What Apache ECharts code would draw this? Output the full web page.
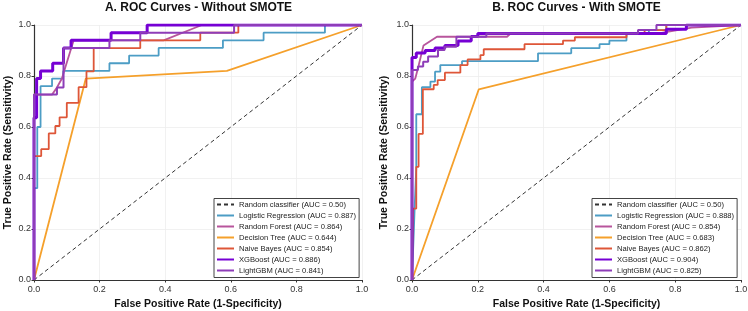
<!DOCTYPE html>
<html>
<head>
<meta charset="utf-8">
<script src="https://cdn.jsdelivr.net/npm/echarts@6/dist/echarts.min.js"></script>
<style>
  html, body { margin: 0; padding: 0; background: #fff; }
  #chart { width: 748px; height: 311px; }
</style>
</head>
<body>
<div id="chart"></div>
<script>
// panel titles and axis names
const panelTitles = ['A. ROC Curves - Without SMOTE', 'B. ROC Curves - With SMOTE'];
const xName = 'False Positive Rate (1-Specificity)';
const yName = 'True Positive Rate (Sensitivity)';

// legend labels
const labelsA = [
  'Random classifier (AUC = 0.50)',
  'Logistic Regression (AUC = 0.887)',
  'Random Forest (AUC = 0.864)',
  'Decision Tree (AUC = 0.644)',
  'Naive Bayes (AUC = 0.854)',
  'XGBoost (AUC = 0.886)',
  'LightGBM (AUC = 0.841)'
];
const labelsB = [
  'Random classifier (AUC = 0.50) ',
  'Logistic Regression (AUC = 0.888)',
  'Random Forest (AUC = 0.854)',
  'Decision Tree (AUC = 0.683)',
  'Naive Bayes (AUC = 0.862)',
  'XGBoost (AUC = 0.904)',
  'LightGBM (AUC = 0.825)'
];

// curves, [fpr, tpr]
const randomLine = [[0, 0], [1, 1]];

const lrA = [[0, 0], [0, 0.36], [0.01, 0.36], [0.01, 0.6], [0.02, 0.6], [0.02, 0.76], [0.055, 0.76], [0.055, 0.79],
  [0.089, 0.79], [0.089, 0.82], [0.23, 0.82], [0.23, 0.85], [0.29, 0.85], [0.29, 0.88], [0.38, 0.88], [0.38, 0.91],
  [0.576, 0.91], [0.576, 0.94], [0.70, 0.94], [0.70, 0.97], [0.887, 0.97], [0.887, 1], [1, 1]];
const rfA = [[0, 0], [0, 0.727], [0.055, 0.727], [0.07, 0.755], [0.085, 0.79], [0.121, 0.94], [0.395, 0.94], [0.512, 1], [1, 1]];
const dtA = [[0, 0], [0.158, 0.79], [0.588, 0.82], [1, 1]];
const nbA = [[0, 0], [0, 0.486], [0.022, 0.486], [0.022, 0.513], [0.045, 0.513], [0.045, 0.575], [0.065, 0.575], [0.065, 0.604],
  [0.078, 0.604], [0.078, 0.638], [0.10, 0.638], [0.10, 0.695], [0.136, 0.695], [0.136, 0.756], [0.16, 0.756], [0.16, 0.818],
  [0.182, 0.818], [0.182, 0.909], [0.324, 0.909], [0.324, 0.94], [0.507, 0.94], [0.507, 0.97], [0.623, 0.97], [0.623, 1], [1, 1]];
const xgbA = [[0, 0], [0, 0.636], [0.008, 0.636], [0.008, 0.79], [0.02, 0.79], [0.02, 0.82], [0.057, 0.82], [0.057, 0.85],
  [0.09, 0.85], [0.09, 0.91], [0.113, 0.91], [0.113, 0.94], [0.235, 0.94], [0.235, 0.97], [0.345, 0.97], [0.345, 1], [1, 1]];
const lgbA = [[0, 0], [0, 0.727], [0.07, 0.727], [0.07, 0.755], [0.09, 0.755], [0.09, 0.91], [0.23, 0.91], [0.23, 0.94],
  [0.324, 0.94], [0.324, 0.97], [0.61, 0.97], [0.61, 1], [1, 1]];

const lrB = [[0, 0], [0.008, 0.28], [0.013, 0.44], [0.013, 0.65], [0.03, 0.65], [0.03, 0.756], [0.056, 0.756], [0.056, 0.778],
  [0.07, 0.778], [0.07, 0.817], [0.086, 0.817], [0.086, 0.843], [0.152, 0.843], [0.152, 0.858], [0.383, 0.858], [0.383, 0.889],
  [0.484, 0.889], [0.484, 0.909], [0.57, 0.909], [0.57, 0.925], [0.6, 0.925], [0.6, 0.939], [0.652, 0.939], [0.652, 0.967],
  [0.72, 0.967], [0.72, 0.98], [0.773, 0.98], [0.773, 1], [1, 1]];
const rfB = [[0, 0], [0, 0.778], [0.01, 0.79], [0.02, 0.84], [0.035, 0.92], [0.076, 0.954], [0.289, 0.954], [0.3, 0.967],
  [0.75, 0.967], [0.85, 0.99], [1, 1]];
const dtB = [[0, 0], [0.203, 0.748], [1, 1]];
const nbB = [[0, 0], [0.003, 0.28], [0.013, 0.28], [0.013, 0.444], [0.02, 0.444], [0.02, 0.573], [0.033, 0.573], [0.033, 0.748],
  [0.066, 0.748], [0.066, 0.765], [0.078, 0.765], [0.078, 0.784], [0.1, 0.784], [0.1, 0.813], [0.147, 0.813], [0.147, 0.843],
  [0.169, 0.843], [0.169, 0.865], [0.208, 0.865], [0.208, 0.882], [0.218, 0.882], [0.218, 0.905], [0.342, 0.905], [0.342, 0.925],
  [0.459, 0.925], [0.459, 0.939], [0.495, 0.939], [0.495, 0.952], [0.652, 0.952], [0.652, 0.967], [0.707, 0.967], [0.707, 0.98],
  [0.773, 0.98], [0.773, 1], [1, 1]];
const xgbB = [[0, 0], [0, 0.873], [0.013, 0.873], [0.013, 0.89], [0.04, 0.89], [0.04, 0.9], [0.07, 0.9], [0.07, 0.91],
  [0.1, 0.91], [0.1, 0.92], [0.14, 0.92], [0.14, 0.937], [0.18, 0.937], [0.18, 0.955], [0.2, 0.955], [0.2, 0.967],
  [0.773, 0.967], [0.773, 0.983], [0.834, 0.983], [0.834, 1], [1, 1]];
const lgbB = [[0, 0], [0, 0.824], [0.018, 0.824], [0.018, 0.837], [0.034, 0.837], [0.034, 0.856], [0.049, 0.856], [0.049, 0.876],
  [0.079, 0.876], [0.079, 0.902], [0.099, 0.902], [0.099, 0.915], [0.135, 0.915], [0.135, 0.954], [0.226, 0.954], [0.226, 0.967],
  [0.687, 0.967], [0.687, 0.98], [0.743, 0.98], [0.743, 1], [1, 1]];

const curvesA = [randomLine, lrA, rfA, dtA, nbA, xgbA, lgbA];
const curvesB = [randomLine, lrB, rfB, dtB, nbB, xgbB, lgbB];

const colors = ['#333333', '#4C9DC5', '#B8559C', '#F5A02B', '#DE5638', '#7600D4', '#8E3DB8'];
const widths = [1, 1.8, 1.8, 1.8, 1.8, 3, 2];

const font = '"Liberation Sans", Arial, sans-serif';

const chart = echarts.init(document.getElementById('chart'));

// outerBoundsMode none: keep the plot boxes exactly where they are
const grids = [
  { left: 34, right: 386, top: 25, bottom: 31, outerBoundsMode: 'none', containLabel: false },
  { left: 412, right: 7, top: 25, bottom: 31, outerBoundsMode: 'none', containLabel: false }
];

const makeAxis = (isX, gi) => ({
  type: 'value',
  gridIndex: gi,
  min: 0,
  max: 1,
  interval: 0.2,
  name: isX ? xName : yName,
  nameLocation: 'middle',
  nameGap: isX ? 18.5 : (gi === 0 ? 20.5 : 22),
  nameMoveOverlap: false,
  nameTextStyle: { fontFamily: font, fontWeight: 'bold', fontSize: 10.5, color: '#111' },
  axisLine: { show: true, onZero: false, lineStyle: { color: '#333', width: 1.2 } },
  axisTick: { show: true, length: 2.5, lineStyle: { color: '#333' } },
  axisLabel: {
    fontFamily: font, fontSize: 9, color: '#333', margin: isX ? 5 : 3,
    verticalAlign: isX ? 'top' : 'middle',
    formatter: (v) => v.toFixed(1)
  },
  splitLine: { show: true, lineStyle: { color: '#ededed', width: 0.8 } }
});

const series = [];
[curvesA, curvesB].forEach((curves, gi) => {
  const labels = gi === 0 ? labelsA : labelsB;
  curves.forEach((c, i) => {
    series.push({
      name: labels[i],
      type: 'line',
      xAxisIndex: gi,
      yAxisIndex: gi,
      data: c,
      symbol: 'none',
      showSymbol: false,
      lineStyle: {
        color: colors[i],
        width: widths[i],
        type: i === 0 ? [4, 3] : 'solid'
      },
      itemStyle: { color: colors[i] },
      z: 2 + i
    });
  });
});

const legendBase = {
  orient: 'vertical',
  top: 198.5,
  itemWidth: 17,
  itemHeight: 8,
  itemGap: 3,
  padding: [2, 3, 3, 2],
  borderColor: '#444',
  borderWidth: 1,
  borderRadius: 0,
  backgroundColor: '#fff',
  selectedMode: false,
  itemStyle: { color: 'rgba(0,0,0,0)', borderWidth: 0, opacity: 0 },
  textStyle: { fontFamily: font, fontSize: 7.6, color: '#222' }
};

const option = {
  animation: false,
  backgroundColor: '#fff',
  title: panelTitles.map((t, i) => ({
    text: t,
    left: i === 0 ? 198.5 : 576.5,
    top: 2,
    padding: 0,
    textAlign: 'center',
    textStyle: { fontFamily: font, fontWeight: 'bold', fontSize: 12, color: '#111' }
  })),
  grid: grids,
  xAxis: [makeAxis(true, 0), makeAxis(true, 1)],
  yAxis: [makeAxis(false, 0), makeAxis(false, 1)],
  legend: [
    Object.assign({}, legendBase, { left: 214, data: labelsA }),
    Object.assign({}, legendBase, { left: 592, data: labelsB })
  ],
  series: series
};

chart.setOption(option);
</script>
</body>
</html>
